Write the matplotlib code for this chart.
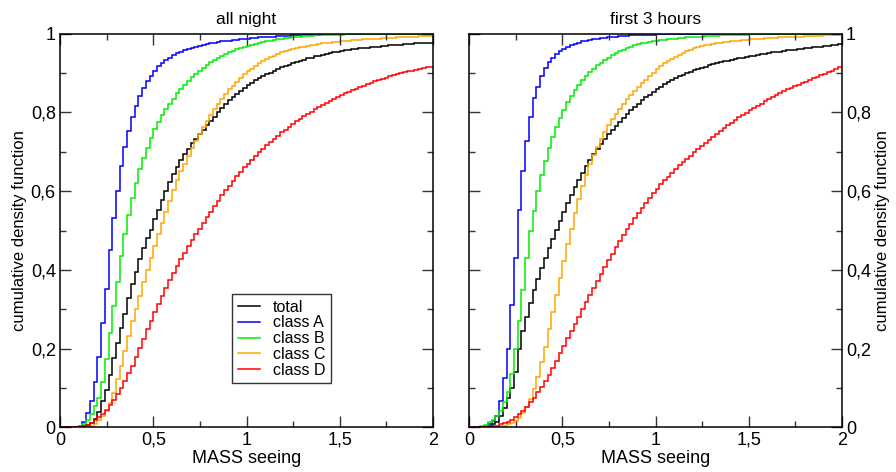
import numpy as np
import matplotlib
matplotlib.use('Agg')
import matplotlib.pyplot as plt
from matplotlib.ticker import MultipleLocator, FuncFormatter

plt.rcParams['font.family'] = ['Liberation Sans', 'DejaVu Sans']
plt.rcParams['font.size'] = 12.5

################################ data: cdf level in each 0.02 wide bin, 0 .. 2 ################################

bin_width = 0.02
x_max = 2.0

labels = ['total', 'class A', 'class B', 'class C', 'class D']
colors = ['black', '#0000ff', '#00ee00', '#ffa500', '#ff0000']
titles = ['all night', 'first 3 hours']

night_total = [
    0, 0, 0, 0, 0.001, 0.002, 0.004, 0.007, 0.012, 0.022,
    0.040, 0.067, 0.096, 0.134, 0.177, 0.215, 0.253, 0.287, 0.329, 0.363,
    0.394, 0.428, 0.456, 0.481, 0.502, 0.528, 0.553, 0.577, 0.600, 0.622,
    0.643, 0.662, 0.679, 0.694, 0.708, 0.721, 0.733, 0.745, 0.756, 0.767,
    0.778, 0.789, 0.800, 0.810, 0.820, 0.830, 0.839, 0.847, 0.855, 0.862,
    0.869, 0.875, 0.881, 0.887, 0.892, 0.897, 0.901, 0.906, 0.910, 0.914,
    0.918, 0.921, 0.925, 0.928, 0.931, 0.934, 0.937, 0.939, 0.942, 0.944,
    0.946, 0.948, 0.950, 0.952, 0.954, 0.956, 0.957, 0.958, 0.960, 0.961,
    0.962, 0.963, 0.964, 0.965, 0.966, 0.967, 0.968, 0.969, 0.970, 0.971,
    0.972, 0.972, 0.973, 0.974, 0.974, 0.975, 0.975, 0.976, 0.976, 0.977]

night_A = [
    0, 0, 0, 0, 0.001, 0.005, 0.015, 0.038, 0.068, 0.116,
    0.180, 0.264, 0.352, 0.450, 0.532, 0.600, 0.663, 0.712, 0.752, 0.789,
    0.817, 0.841, 0.862, 0.879, 0.893, 0.906, 0.917, 0.926, 0.933, 0.939,
    0.945, 0.950, 0.954, 0.958, 0.961, 0.964, 0.967, 0.969, 0.971, 0.973,
    0.975, 0.977, 0.978, 0.980, 0.981, 0.982, 0.983, 0.984, 0.985, 0.986,
    0.987, 0.988, 0.989, 0.990, 0.990, 0.991, 0.992, 0.992, 0.993, 0.993,
    0.994, 0.994, 0.995, 0.995, 0.996, 0.996, 0.996, 0.997, 0.997, 0.997,
    0.998, 0.998, 0.998, 0.998, 0.999, 0.999, 0.999, 0.999, 0.999, 0.999,
    1, 1, 1, 1, 1, 1, 1, 1, 1, 1,
    1, 1, 1, 1, 1, 1, 1, 1, 1, 1]

night_B = [
    0, 0, 0, 0, 0.001, 0.004, 0.010, 0.020, 0.035, 0.055,
    0.076, 0.115, 0.173, 0.240, 0.308, 0.370, 0.435, 0.490, 0.540, 0.582,
    0.620, 0.655, 0.684, 0.710, 0.735, 0.758, 0.775, 0.794, 0.809, 0.822,
    0.834, 0.848, 0.859, 0.869, 0.879, 0.889, 0.898, 0.906, 0.913, 0.920,
    0.927, 0.933, 0.938, 0.943, 0.948, 0.952, 0.956, 0.960, 0.963, 0.966,
    0.969, 0.972, 0.974, 0.976, 0.978, 0.980, 0.982, 0.984, 0.985, 0.987,
    0.988, 0.989, 0.990, 0.991, 0.992, 0.993, 0.993, 0.994, 0.995, 0.995,
    0.996, 0.996, 0.996, 0.997, 0.997, 0.997, 0.998, 0.998, 0.998, 0.998,
    0.999, 0.999, 0.999, 0.999, 0.999, 0.999, 0.999, 0.999, 0.999, 0.999,
    0.999, 0.999, 1, 1, 1, 1, 1, 1, 1, 1]

night_C = [
    0, 0, 0, 0, 0, 0, 0.001, 0.002, 0.005, 0.010,
    0.018, 0.028, 0.041, 0.063, 0.088, 0.122, 0.156, 0.194, 0.232, 0.270,
    0.302, 0.333, 0.369, 0.401, 0.431, 0.461, 0.490, 0.520, 0.548, 0.576,
    0.602, 0.627, 0.650, 0.670, 0.690, 0.710, 0.728, 0.746, 0.763, 0.779,
    0.794, 0.808, 0.822, 0.835, 0.847, 0.858, 0.868, 0.878, 0.887, 0.896,
    0.904, 0.911, 0.918, 0.924, 0.930, 0.935, 0.940, 0.944, 0.948, 0.952,
    0.955, 0.958, 0.961, 0.963, 0.965, 0.967, 0.969, 0.971, 0.972, 0.974,
    0.975, 0.976, 0.977, 0.978, 0.979, 0.980, 0.981, 0.982, 0.983, 0.984,
    0.984, 0.985, 0.986, 0.986, 0.987, 0.987, 0.988, 0.988, 0.989, 0.989,
    0.990, 0.990, 0.991, 0.991, 0.992, 0.992, 0.993, 0.993, 0.993, 0.994]

night_D = [
    0, 0, 0, 0, 0, 0.001, 0.003, 0.007, 0.012, 0.019,
    0.026, 0.034, 0.044, 0.056, 0.069, 0.084, 0.100, 0.118, 0.138, 0.157,
    0.178, 0.202, 0.225, 0.249, 0.271, 0.293, 0.314, 0.335, 0.355, 0.375,
    0.393, 0.410, 0.427, 0.444, 0.460, 0.475, 0.490, 0.505, 0.520, 0.534,
    0.548, 0.562, 0.576, 0.589, 0.602, 0.614, 0.626, 0.638, 0.649, 0.660,
    0.670, 0.680, 0.690, 0.699, 0.708, 0.717, 0.725, 0.733, 0.741, 0.749,
    0.756, 0.763, 0.770, 0.777, 0.784, 0.790, 0.796, 0.802, 0.808, 0.814,
    0.819, 0.824, 0.829, 0.834, 0.839, 0.843, 0.848, 0.852, 0.856, 0.860,
    0.864, 0.868, 0.872, 0.875, 0.879, 0.882, 0.885, 0.888, 0.891, 0.894,
    0.897, 0.899, 0.902, 0.904, 0.906, 0.908, 0.910, 0.912, 0.914, 0.916]

first3_total = [
    0, 0, 0, 0.001, 0.002, 0.004, 0.008, 0.015, 0.030, 0.050,
    0.075, 0.100, 0.140, 0.200, 0.245, 0.280, 0.315, 0.348, 0.378, 0.405,
    0.430, 0.455, 0.478, 0.502, 0.525, 0.547, 0.569, 0.590, 0.610, 0.629,
    0.647, 0.664, 0.680, 0.695, 0.708, 0.720, 0.732, 0.744, 0.755, 0.766,
    0.776, 0.786, 0.796, 0.805, 0.814, 0.822, 0.830, 0.838, 0.845, 0.852,
    0.859, 0.865, 0.871, 0.877, 0.882, 0.887, 0.891, 0.895, 0.899, 0.903,
    0.907, 0.910, 0.913, 0.916, 0.919, 0.922, 0.924, 0.927, 0.929, 0.931,
    0.933, 0.935, 0.937, 0.939, 0.941, 0.943, 0.944, 0.946, 0.947, 0.949,
    0.950, 0.952, 0.953, 0.954, 0.956, 0.957, 0.958, 0.959, 0.960, 0.961,
    0.963, 0.964, 0.965, 0.966, 0.967, 0.968, 0.969, 0.970, 0.972, 0.974]

first3_A = [
    0, 0, 0, 0.002, 0.005, 0.010, 0.016, 0.030, 0.068, 0.126,
    0.198, 0.310, 0.430, 0.553, 0.650, 0.726, 0.788, 0.837, 0.865, 0.893,
    0.913, 0.927, 0.938, 0.947, 0.955, 0.961, 0.966, 0.970, 0.974, 0.977,
    0.980, 0.982, 0.984, 0.986, 0.987, 0.988, 0.989, 0.990, 0.991, 0.992,
    0.993, 0.994, 0.994, 0.995, 0.995, 0.996, 0.996, 0.997, 0.997, 0.997,
    0.998, 0.998, 0.998, 0.998, 0.999, 0.999, 0.999, 0.999, 0.999, 0.999,
    1, 1, 1, 1, 1, 1, 1, 1, 1, 1,
    1, 1, 1, 1, 1, 1, 1, 1, 1, 1,
    1, 1, 1, 1, 1, 1, 1, 1, 1, 1,
    1, 1, 1, 1, 1, 1, 1, 1, 1, 1]

first3_B = [
    0, 0, 0.001, 0.003, 0.007, 0.013, 0.020, 0.030, 0.042, 0.064,
    0.090, 0.135, 0.200, 0.270, 0.350, 0.430, 0.500, 0.550, 0.600, 0.640,
    0.676, 0.710, 0.738, 0.763, 0.786, 0.806, 0.825, 0.842, 0.857, 0.870,
    0.882, 0.893, 0.903, 0.911, 0.919, 0.926, 0.933, 0.939, 0.945, 0.950,
    0.955, 0.959, 0.963, 0.967, 0.970, 0.973, 0.975, 0.977, 0.979, 0.980,
    0.982, 0.983, 0.984, 0.985, 0.986, 0.987, 0.988, 0.989, 0.990, 0.990,
    0.991, 0.992, 0.992, 0.993, 0.993, 0.994, 0.994, 0.995, 0.995, 0.996,
    0.996, 0.996, 0.997, 0.997, 0.997, 0.998, 0.998, 0.998, 0.998, 0.999,
    0.999, 0.999, 0.999, 0.999, 0.999, 0.999, 0.999, 0.999, 0.999, 0.999,
    1, 1, 1, 1, 1, 1, 1, 1, 1, 1]

first3_C = [
    0, 0, 0, 0, 0, 0.001, 0.001, 0.002, 0.003, 0.005,
    0.008, 0.012, 0.017, 0.025, 0.037, 0.052, 0.072, 0.097, 0.127, 0.165,
    0.205, 0.250, 0.292, 0.336, 0.380, 0.422, 0.465, 0.505, 0.545, 0.580,
    0.613, 0.642, 0.668, 0.692, 0.713, 0.733, 0.751, 0.767, 0.782, 0.796,
    0.809, 0.821, 0.833, 0.844, 0.854, 0.864, 0.874, 0.883, 0.892, 0.901,
    0.909, 0.917, 0.924, 0.930, 0.936, 0.941, 0.946, 0.951, 0.955, 0.959,
    0.962, 0.965, 0.968, 0.970, 0.972, 0.974, 0.976, 0.977, 0.978, 0.979,
    0.980, 0.981, 0.982, 0.983, 0.984, 0.985, 0.986, 0.986, 0.987, 0.988,
    0.988, 0.989, 0.989, 0.990, 0.990, 0.991, 0.991, 0.992, 0.992, 0.992,
    0.993, 0.993, 0.994, 0.994, 0.994, 0.995, 0.995, 0.995, 0.996, 0.996]

first3_D = [
    0, 0, 0, 0, 0.001, 0.002, 0.003, 0.005, 0.008, 0.011,
    0.015, 0.020, 0.026, 0.034, 0.043, 0.053, 0.064, 0.076, 0.090, 0.104,
    0.118, 0.134, 0.152, 0.170, 0.188, 0.207, 0.226, 0.244, 0.263, 0.281,
    0.300, 0.318, 0.337, 0.355, 0.372, 0.390, 0.407, 0.424, 0.441, 0.457,
    0.473, 0.488, 0.503, 0.517, 0.531, 0.545, 0.558, 0.571, 0.583, 0.595,
    0.606, 0.617, 0.627, 0.637, 0.647, 0.657, 0.665, 0.673, 0.681, 0.690,
    0.698, 0.706, 0.714, 0.722, 0.730, 0.738, 0.746, 0.753, 0.760, 0.767,
    0.774, 0.781, 0.787, 0.793, 0.799, 0.805, 0.811, 0.817, 0.822, 0.828,
    0.833, 0.838, 0.843, 0.848, 0.853, 0.858, 0.862, 0.866, 0.870, 0.874,
    0.878, 0.882, 0.886, 0.890, 0.894, 0.898, 0.902, 0.906, 0.910, 0.914]

################################ plotting ################################

def comma(v, pos):  # european decimal comma on the ticks
    return '{:g}'.format(round(v, 3)).replace('.', ',')


def style_axes(ax, title, right_side):
    ax.set_xlim(0, x_max)
    ax.set_ylim(0, 1)
    ax.xaxis.set_major_locator(MultipleLocator(0.5))
    ax.xaxis.set_minor_locator(MultipleLocator(0.25))
    ax.yaxis.set_major_locator(MultipleLocator(0.2))
    ax.yaxis.set_minor_locator(MultipleLocator(0.1))
    ax.xaxis.set_major_formatter(FuncFormatter(comma))
    ax.yaxis.set_major_formatter(FuncFormatter(comma))
    ax.tick_params(which='both', direction='in', top=True, right=True, left=True, bottom=True,
                   width=1.0, color='#333333', labelsize=13, pad=3)
    ax.tick_params(which='major', length=8)
    ax.tick_params(which='minor', length=4.5)
    for s in ax.spines.values():
        s.set_linewidth(1.1)
    ax.set_xlabel('MASS seeing', fontsize=13, labelpad=1)
    ax.set_ylabel('cumulative density function', fontsize=12, labelpad=3)
    ax.set_title(title, fontsize=12.5, pad=7)
    if right_side:
        ax.tick_params(axis='y', which='both', labelleft=False, labelright=True)
        ax.yaxis.set_label_position('right')


fig = plt.figure(figsize=(8.96, 4.72), dpi=100)
ax1 = fig.add_axes([0.067, 0.0943, 0.4163, 0.8347])
ax2 = fig.add_axes([0.5238, 0.0943, 0.4156, 0.8347])

edges = np.linspace(0, x_max, int(round(x_max / bin_width)) + 1)

panels = [(ax1, [night_total, night_A, night_B, night_C, night_D]),
          (ax2, [first3_total, first3_A, first3_B, first3_C, first3_D])]

for n, (ax, series) in enumerate(panels):
    for vals, lab, col in zip(series, labels, colors):
        ax.stairs(vals, edges, baseline=None, color=col, linewidth=1.1, label=lab)
    style_axes(ax, titles[n], right_side=(n == 1))

leg = ax1.legend(loc='lower left', bbox_to_anchor=(0.461, 0.112), borderaxespad=0,
                 fancybox=False, edgecolor='#333333', framealpha=1, fontsize=11.5,
                 handlelength=1.4, handletextpad=0.8, labelspacing=0.05, borderpad=0.35)
leg.get_frame().set_linewidth(1.0)

plt.savefig('out.png', dpi=100)
